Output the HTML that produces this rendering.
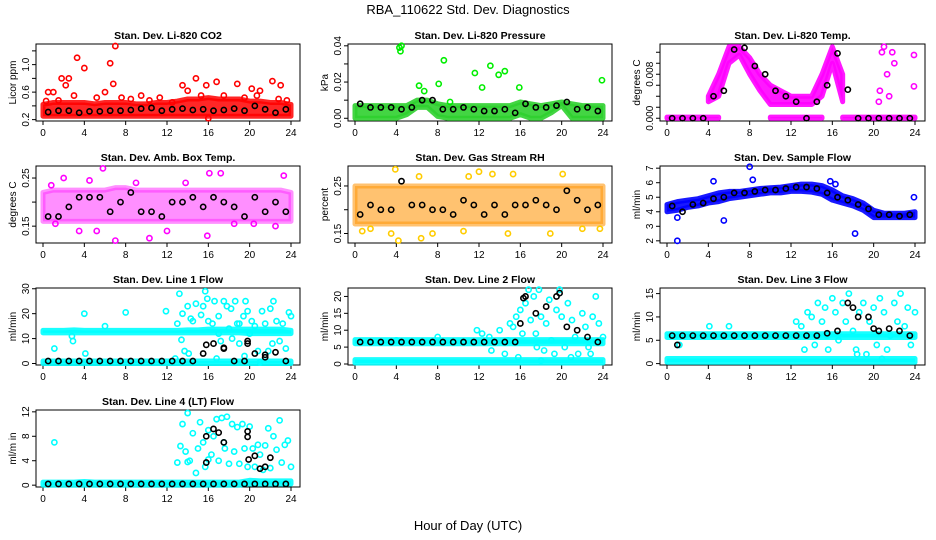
<!DOCTYPE html>
<html><head><meta charset="utf-8"><style>
body{margin:0;background:#fff;width:936px;height:540px;overflow:hidden}
svg{display:block;font-family:"Liberation Sans",sans-serif}
</style></head><body>
<svg id="chart" width="936" height="540" viewBox="0 0 936 540" xmlns="http://www.w3.org/2000/svg">
<text x="468" y="14" font-size="13" text-anchor="middle">RBA_110622  Std. Dev. Diagnostics</text>
<text x="468" y="530" font-size="13" text-anchor="middle">Hour of Day (UTC)</text>
</svg>
<script>
const bandHours=[0,1,2,3,4,5,6,7,8,9,10,11,12,13,14,15,16,17,18,19,20,21,22,23,24];
const blackHours=[0.5,1.5,2.5,3.5,4.5,5.5,6.5,7.5,8.5,9.5,10.5,11.5,12.5,13.5,14.5,15.5,16.5,17.5,18.5,19.5,20.5,21.5,22.5,23.5];
const xTicks=[0,4,8,12,16,20,24];

const co2Lo=[0.25,0.25,0.25,0.25,0.25,0.25,0.25,0.25,0.25,0.25,0.25,0.25,0.25,0.25,0.25,0.25,0.25,0.25,0.25,0.25,0.25,0.25,0.25,0.25,0.25];
const co2Hi=[0.42,0.45,0.45,0.45,0.45,0.43,0.45,0.45,0.45,0.43,0.43,0.45,0.45,0.47,0.5,0.5,0.52,0.5,0.5,0.5,0.47,0.47,0.45,0.45,0.42];
const co2Black=[0.31,0.33,0.33,0.3,0.32,0.32,0.33,0.33,0.34,0.36,0.37,0.33,0.35,0.36,0.34,0.35,0.33,0.34,0.36,0.33,0.40,0.35,0.30,0.35];
const co2OutX=[0.5,1,1.8,2.2,2.5,3.3,4,6.5,6.8,7,9.5,11.3,13.5,14.8,15.8,16,16.8,18.8,20.2,21,22.2,23,0.3,1.5,3,5.2,6,7.6,8.5,10.3,12.5,14,15.3,17.5,19.5,20.7,22.8,23.6];
const co2OutY=[0.6,0.6,0.8,0.7,0.8,1.1,0.95,1.02,0.72,1.27,0.55,0.52,0.7,0.8,0.7,0.22,0.75,0.72,0.65,0.62,0.76,0.7,0.47,0.48,0.55,0.52,0.6,0.52,0.5,0.48,0.45,0.62,0.55,0.55,0.52,0.55,0.5,0.48];

const presLo=[0,0,0,0,0,0.002,0.006,0.006,0.001,0,0,0,0,0,0,0,0.002,0,0,0.003,0.007,0,0,0,0];
const presHi=[0.007,0.007,0.007,0.007,0.007,0.007,0.01,0.01,0.008,0.007,0.007,0.007,0.007,0.007,0.007,0.007,0.009,0.008,0.007,0.008,0.009,0.008,0.007,0.007,0.007];
const presBlack=[0.008,0.006,0.006,0.006,0.005,0.006,0.010,0.010,0.005,0.005,0.006,0.005,0.004,0.004,0.005,0.003,0.008,0.006,0.006,0.007,0.009,0.005,0.006,0.004];
const presOutX=[4.3,4.5,4.4,6.2,6.7,8.1,8.6,9.2,11.6,12.3,13.1,13.9,14.5,15.9,23.9];
const presOutY=[0.039,0.04,0.037,0.018,0.015,0.019,0.032,0.009,0.025,0.017,0.029,0.024,0.026,0.017,0.021];

const tempLo=[null,null,null,null,0.003,0.004,0.010,0.0115,0.008,0.005,0.0025,0.0025,0.0025,0.0025,0.0025,0.004,0.010,0.003,null,null,null,null,null,null,null];
const tempHi=[null,null,null,null,0.004,0.008,0.013,0.013,0.011,0.008,0.006,0.005,0.004,0.004,0.004,0.008,0.013,0.008,null,null,null,null,null,null,null];
const tempZeroLo=[0,0,0,0,0,0,null,null,null,null,0,0,0,0,0,0,null,0,0,0,0,0,0,0,0];
const tempZeroHi=[0.0002,0.0002,0.0002,0.0002,0.0002,0.0002,null,null,null,null,0.0002,0.0002,0.0002,0.0002,0.0002,0.0002,null,0.0002,0.0002,0.0002,0.0002,0.0002,0.0002,0.0002,0.0002];
const tempBlack=[0,0,0,0,0.004,0.005,0.0125,0.0128,0.0095,0.008,0.005,0.004,0.003,0,0.003,0.006,0.0118,0.0052,0,0,0,0,0,0];
const tempOutX=[20.6,20.8,21.0,21.3,21.5,21.8,22,20.5,23.9,23.9];
const tempOutY=[0.005,0.012,0.013,0.008,0.004,0.012,0.01,0.003,0.0115,0.0058];

const ambLo=[0.16,0.16,0.16,0.16,0.16,0.16,0.16,0.16,0.16,0.16,0.16,0.16,0.16,0.16,0.16,0.16,0.16,0.16,0.16,0.16,0.16,0.16,0.16,0.16,0.16];
const ambHi=[0.22,0.225,0.225,0.225,0.225,0.225,0.225,0.23,0.23,0.225,0.225,0.225,0.225,0.225,0.225,0.225,0.225,0.225,0.225,0.225,0.225,0.225,0.225,0.225,0.22];
const ambBlack=[0.17,0.17,0.19,0.21,0.21,0.21,0.18,0.2,0.22,0.18,0.18,0.17,0.2,0.2,0.21,0.19,0.21,0.2,0.19,0.17,0.21,0.18,0.2,0.18];
const ambOutX=[7,10.3,5.8,16.1,17.2,23.3,3.5,5.2,15.9,2.0,0.8,12,22.5,1.2,4.5,9,13.8,18.5,20.4];
const ambOutY=[0.12,0.125,0.27,0.26,0.26,0.255,0.14,0.14,0.13,0.25,0.235,0.14,0.15,0.155,0.245,0.24,0.24,0.155,0.155];

const rhLo=[0.17,0.17,0.17,0.17,0.17,0.17,0.17,0.17,0.17,0.17,0.17,0.17,0.17,0.17,0.17,0.17,0.17,0.17,0.17,0.17,0.17,0.17,0.17,0.17,0.17];
const rhHi=[0.25,0.25,0.25,0.25,0.25,0.25,0.25,0.25,0.25,0.25,0.25,0.25,0.25,0.25,0.25,0.25,0.25,0.25,0.25,0.25,0.25,0.25,0.25,0.25,0.25];
const rhBlack=[0.19,0.21,0.2,0.2,0.26,0.21,0.21,0.2,0.2,0.19,0.22,0.21,0.19,0.21,0.19,0.21,0.21,0.22,0.21,0.2,0.24,0.22,0.2,0.21];
const rhOutX=[3.9,6.2,7.5,3.5,4.2,6.4,11,12,13.3,15.3,14.8,18.9,20.1,10.5,0.7,1.5,22,23.7];
const rhOutY=[0.285,0.27,0.15,0.15,0.135,0.14,0.27,0.28,0.275,0.275,0.15,0.15,0.275,0.155,0.155,0.16,0.16,0.16];

const flowLo=[4.0,4.1,4.3,4.4,4.6,4.7,4.9,5.0,5.1,5.2,5.3,5.3,5.4,5.4,5.35,5.2,4.8,4.6,4.4,4.1,3.6,3.6,3.6,3.6,3.6];
const flowHi=[4.5,4.7,4.8,4.9,5.1,5.3,5.4,5.4,5.5,5.6,5.65,5.7,5.8,5.9,5.9,5.8,5.5,5.1,4.9,4.6,4.1,3.9,3.9,3.9,4.0];
const flowBlack=[4.4,4.0,4.5,4.6,4.9,5.0,5.3,5.3,5.4,5.5,5.5,5.6,5.7,5.7,5.6,5.3,5.0,4.8,4.5,4.2,3.8,3.8,3.7,3.8];
const flowOutX=[1,1,4.5,5.5,8,8.3,15.8,16.3,18.2,23.9];
const flowOutY=[2,3.6,6.1,3.4,7.1,6.2,6.1,5.9,2.5,5];

const l1Lo=[12.3,12.3,12.3,12.3,12.3,12.3,12.3,12.3,12.3,12.3,12.3,12.3,12.3,12.3,12.3,12.3,12.3,12.3,12.3,12.3,12,12,12,12,12];
const l1Hi=[13.3,13.3,13.3,13.5,13.3,13.3,13.3,13.3,13.3,13.3,13.3,13.3,13.3,13.3,13.5,13.5,13.8,13.8,13.8,13.8,13.8,13.8,13.8,13.8,13.3];
const l1LowLo=[0,0,0,0,0,0,0,0,0,0,0,0,0,0,0,0,0,0,0,0,0,0,0,0,0];
const l1LowHi=[1,1,1,1,1,1,1,1,1,1,1,1,1,1,1,1,1,1,1,1,1,1,1,1,1];
const l1Black=[1,1,1,1,1,1,1,1,1,1,1,1,1,1,1,4,8,6,1,1,4,2.5,4.5,1];
const l1ExtraX=[15.8,17.5,19.8,19.8,21.5];
const l1ExtraY=[7.5,6.3,9,8,3.5];
const l1OutX=[1.1,4,8,11.9,4.1,2.8,2.9,6,13.2,13.5,13.4,13,14,14.3,14.8,15.3,15.5,15.7,15.9,16,16.4,16.6,17,17.2,17.5,17.8,18.2,18.3,18.6,18.8,19,19.4,19.6,19.8,20.2,20.5,20.8,21.2,21.5,21.8,22,22.3,22.6,22.9,23.2,23.5,23.8,24,14.1,16.8,13.7,18,19,20,14.5,12.8,17,19.5,21,22.2];
const l1OutY=[6,20,20.5,21,4,11,9,15,28,20,9.5,16,23,18,24,19.5,23,29,26,17,16,25,19,9,25,23,22,10,25,16,8,19,25,21,17,15,5,21,16,5,22,25,17,9,16,6,20.5,19,4,2,5,14,16,12,17,2,12,3,0.5,8];

const l2Lo=[6,6,6,6,6,6,6,6,6,6,6,6,6,6,6,6,6,6,6,6,6,6,6,6,6];
const l2Hi=[7.2,7.2,7.2,7.2,7.2,7.2,7.2,7.2,7.2,7.2,7.2,7.2,7.2,7.2,7.2,7.2,7.2,7.2,7.2,7.2,7.2,7.2,7.2,7.2,7.2];
const l2LowLo=[0.3,0.3,0.3,0.3,0.3,0.3,0.3,0.3,0.3,0.3,0.3,0.3,0.3,0.3,0.3,0.3,0.3,0.3,0.3,0.3,0.3,0.3,0.3,0.3,0.3];
const l2LowHi=[1.3,1.3,1.3,1.3,1.3,1.3,1.3,1.3,1.3,1.3,1.3,1.3,1.3,1.3,1.3,1.3,1.3,1.3,1.3,1.3,1.3,1.3,1.3,1.3,1.3];
const l2Black=[6.5,6.5,6.5,6.5,6.5,6.5,6.5,6.5,6.5,6.5,6.5,6.5,6.5,6.5,6.5,6.5,20,15,17,20,11,10,8,6.5];
const l2ExtraX=[16,16.3,19.8];
const l2ExtraY=[12,19.5,21];
const l2OutX=[4,8,11.8,13,13.2,14,14.5,15,15.3,15.6,16,16.2,16.5,16.8,17,17.3,17.5,17.8,18,18.3,18.5,18.8,19,19.3,19.5,19.8,20,20.3,20.6,21,21.3,21.6,22,22.3,22.6,23,23.3,23.6,24,14.8,12.3,15.8,17.6,20.9,22.8,18];
const l2OutY=[7,8,10,8,4,10,3,12,11,14,16,9,18,22,13,20,9,22,14,4,12,19,7,3,16,22,14,5,18,13,8,3,15,11,5,14,20,12,8,7,9,2,5,2,3,1];

const l3Lo=[5.6,5.6,5.6,5.6,5.6,5.6,5.6,5.6,5.6,5.6,5.6,5.6,5.6,5.6,5.6,5.6,5.6,5.6,5.6,5.6,5.6,5.6,5.6,5.6,5.6];
const l3Hi=[6.4,6.4,6.4,6.4,6.4,6.4,6.4,6.4,6.4,6.4,6.4,6.4,6.4,6.4,6.4,6.4,6.4,6.4,6.4,6.4,6.4,6.4,6.4,6.4,6.4];
const l3LowLo=[0.3,0.3,0.3,0.3,0.3,0.3,0.3,0.3,0.3,0.3,0.3,0.3,0.3,0.3,0.3,0.3,0.3,0.3,0.3,0.3,0.3,0.3,0.3,0.3,0.3];
const l3LowHi=[1.1,1.1,1.1,1.1,1.1,1.1,1.1,1.1,1.1,1.1,1.1,1.1,1.1,1.1,1.1,1.1,1.1,1.1,1.1,1.1,1.1,1.1,1.1,1.1,1.1];
const l3Black=[6,6,6,6,6,6,6,6,6,6,6,6,6,6,6,6.5,7,13,10,10,7,7.5,7,6];
const l3ExtraX=[1,18,20];
const l3ExtraY=[4,12,7.5];
const l3OutX=[1,1.2,4.1,6,12.5,13,13.3,13.6,14,14.3,14.6,15,15.3,15.6,16,16.3,16.6,17,17.3,17.6,18,18.3,18.6,19,19.3,19.6,20,20.3,20.6,21,21.3,21.6,22,22.3,22.6,23,23.3,23.6,24,18.4,15.5,20.8];
const l3OutY=[6,4,8,8,9,8,3,11,10,4,13,9,12,3,14,11,5,13,9,15,7,3,11,13,2,9,12,4,14,11,3,6,13,9,15,8,12,4,11,2,6,1];

const l4LowLo=[0,0,0,0,0,0,0,0,0,0,0,0,0,0,0,0,0,0,0,0,0.2,0.2,0.2,0.2,0.2];
const l4LowHi=[0.5,0.5,0.5,0.5,0.6,0.5,0.5,0.5,0.5,0.5,0.5,0.5,0.5,0.5,0.5,0.5,0.5,0.5,0.5,0.5,0.8,0.7,0.7,0.7,0.7];
const l4Black=[0.2,0.2,0.2,0.2,0.2,0.2,0.2,0.2,0.2,0.2,0.2,0.2,0.2,0.2,0.2,0.2,0.2,0.2,0.2,0.2,0.2,0.2,0.2,0.2];
const l4ExtraX=[15.8,15.8,16.5,17,17.5,19.8,19.8,19.9,20.5,21,21.5,22];
const l4ExtraY=[8,3.7,9.2,8.6,7,8.8,7.9,4.2,4.8,2.7,3,4.5];
const l4OutX=[1.1,13,13.3,13.5,13.8,14,14.2,14.5,14.8,15,15.2,15.5,15.7,16,16.3,16.5,16.8,17,17.3,17.5,17.8,18,18.3,18.5,18.8,19,19.3,19.5,19.8,20,20.3,20.5,20.8,21,21.3,21.5,21.8,22,22.3,22.6,22.9,23.1,23.4,23.7,24,14,16,17.6];
const l4OutY=[7,3.7,6.4,10,5.5,11.8,4,8.5,2,6,10.3,7,3,9,5,8,10.8,4,11,7,11.2,3.5,10,5.5,9.5,3.5,10,6,3,9.6,6,3,6.6,5,2.5,6.5,9.3,2.8,8,5.8,10.6,3.7,6.6,7.3,3,3.8,4.2,6];

const NS='http://www.w3.org/2000/svg';
const svg=document.getElementById('chart');
function mk(tag,attrs,parent){const e=document.createElementNS(NS,tag);for(const k in attrs)e.setAttribute(k,attrs[k]);(parent||svg).appendChild(e);return e;}

const panels=[
 {title:'Stan. Dev. Li-820 CO2',ylab:'Licor ppm',col:0,row:0,ymin:0.18,ymax:1.3,yt:[0.2,0.4,0.6,0.8,1.0,1.2],yl:['0.2','','0.6','','1.0',''],color:'#ff0000',band:'#ff0000',op:0.85,bands:[[co2Lo,co2Hi]],black:co2Black,ox:co2OutX,oy:co2OutY},
 {title:'Stan. Dev. Li-820 Pressure',ylab:'kPa',col:1,row:0,ymin:-0.0015,ymax:0.041,yt:[0,0.01,0.02,0.03,0.04],yl:['0.00','','0.02','','0.04'],color:'#00ee00',band:'#2fd02f',op:0.9,bands:[[presLo,presHi]],black:presBlack,ox:presOutX,oy:presOutY},
 {title:'Stan. Dev. Li-820 Temp.',ylab:'degrees C',col:2,row:0,ymin:-0.0005,ymax:0.0135,yt:[0,0.002,0.004,0.006,0.008,0.010,0.012],yl:['0.000','','','','0.008','',''],color:'#ff00ff',band:'#ff00ff',op:0.9,bands:[[tempLo,tempHi],[tempZeroLo,tempZeroHi]],black:tempBlack,ox:tempOutX,oy:tempOutY},
 {title:'Stan. Dev. Amb. Box Temp.',ylab:'degrees C',col:0,row:1,ymin:0.115,ymax:0.275,yt:[0.15,0.2,0.25],yl:['0.15','','0.25'],color:'#ff00ff',band:'#ff33ff',op:0.55,bands:[[ambLo,ambHi]],black:ambBlack,ox:ambOutX,oy:ambOutY},
 {title:'Stan. Dev. Gas Stream RH',ylab:'percent',col:1,row:1,ymin:0.13,ymax:0.292,yt:[0.15,0.2,0.25],yl:['0.15','','0.25'],color:'#ffcc00',band:'#ff9a10',op:0.6,bands:[[rhLo,rhHi]],black:rhBlack,ox:rhOutX,oy:rhOutY},
 {title:'Stan. Dev. Sample Flow',ylab:'ml/min',col:2,row:1,ymin:1.85,ymax:7.15,yt:[2,3,4,5,6,7],yl:['2','3','4','5','6','7'],color:'#0000ff',band:'#0000ff',op:0.9,bands:[[flowLo,flowHi]],black:flowBlack,ox:flowOutX,oy:flowOutY},
 {title:'Stan. Dev. Line 1 Flow',ylab:'ml/min',col:0,row:2,ymin:-0.6,ymax:30.3,yt:[0,10,20,30],yl:['0','10','20','30'],color:'#00ffff',band:'#00ffff',op:0.9,bands:[[l1Lo,l1Hi],[l1LowLo,l1LowHi]],black:l1Black,bx:l1ExtraX,by:l1ExtraY,ox:l1OutX,oy:l1OutY},
 {title:'Stan. Dev. Line 2 Flow',ylab:'ml/min',col:1,row:2,ymin:-0.3,ymax:22.5,yt:[0,5,10,15,20],yl:['0','5','10','15','20'],color:'#00ffff',band:'#00ffff',op:0.9,bands:[[l2Lo,l2Hi],[l2LowLo,l2LowHi]],black:l2Black,bx:l2ExtraX,by:l2ExtraY,ox:l2OutX,oy:l2OutY},
 {title:'Stan. Dev. Line 3 Flow',ylab:'ml/min',col:2,row:2,ymin:-0.3,ymax:16.2,yt:[0,5,10,15],yl:['0','5','10','15'],color:'#00ffff',band:'#00ffff',op:0.9,bands:[[l3Lo,l3Hi],[l3LowLo,l3LowHi]],black:l3Black,bx:l3ExtraX,by:l3ExtraY,ox:l3OutX,oy:l3OutY},
 {title:'Stan. Dev. Line 4 (LT) Flow',ylab:'ml/m in',col:0,row:3,ymin:-0.3,ymax:12.3,yt:[0,4,8,12],yl:['0','4','8','12'],color:'#00ffff',band:'#00ffff',op:0.9,bands:[[l4LowLo,l4LowHi]],black:l4Black,bx:l4ExtraX,by:l4ExtraY,ox:l4OutX,oy:l4OutY}
];
const colBox=[[36,300],[348,612],[660,925]];
const colX0=[43,355,667];
const titleY=[35,157,279,401];

panels.forEach((p,i)=>{
  const g=mk('g',{});
  
  
  const [bl,br]=colBox[p.col];const x0=colX0[p.col];const x24=x0+248;
  const ty=titleY[p.row];const bt=ty+9,bb=ty+86;
  const X=h=>x0+(h/24)*(x24-x0);
  const Y=v=>bb-(v-p.ymin)/(p.ymax-p.ymin)*(bb-bt);
  const t=mk('text',{x:(bl+br)/2,y:ty+4,'font-size':10.5,'font-weight':'bold','text-anchor':'middle'},g);t.textContent=p.title;
  
  
  const box=mk('rect',{x:bl,y:bt,width:br-bl,height:bb-bt,fill:'none',stroke:'#000','stroke-width':1},g);
  
  
  const xa=mk('g',{},g);
  
  
  xTicks.forEach(h=>{mk('line',{x1:X(h),x2:X(h),y1:bb,y2:bb+4,stroke:'#000'},xa);const l=mk('text',{x:X(h),y:bb+15,'font-size':10,'text-anchor':'middle'},xa);l.textContent=h;});
  const ya=mk('g',{},g);
  
  
  p.yt.forEach((v,k)=>{mk('line',{x1:bl-4,x2:bl,y1:Y(v),y2:Y(v),stroke:'#000'},ya);if(p.yl[k]){const l=mk('text',{x:0,y:0,'font-size':10,'text-anchor':'middle',transform:`translate(${bl-7},${Y(v)}) rotate(-90)`},ya);l.textContent=p.yl[k];}});
  const yl=mk('text',{x:0,y:0,'font-size':10,'text-anchor':'middle',transform:`translate(${bl-20},${(bt+bb)/2}) rotate(-90)`},g);yl.textContent=p.ylab;
  
  
  p.bands.forEach(([lo,hi])=>{
    // split into contiguous segments where values are not null
    let seg=[];const segs=[];
    bandHours.forEach((h,k)=>{if(lo[k]===null||hi[k]===null){if(seg.length)segs.push(seg);seg=[];}else seg.push(k);});
    if(seg.length)segs.push(seg);
    segs.forEach(s=>{
      let d='';s.forEach((k,j)=>{d+=(j?'L':'M')+X(bandHours[k])+','+Y(hi[k]);});
      for(let j=s.length-1;j>=0;j--)d+='L'+X(bandHours[s[j]])+','+Y(lo[s[j]]);
      const b=mk('path',{d:d+'Z',fill:p.band,stroke:p.band,'stroke-width':5,'stroke-linejoin':'round','stroke-linecap':'round','fill-opacity':p.op,'stroke-opacity':p.op},g);
      
      
    });
  });
  p.ox.forEach((h,k)=>{const c=mk('circle',{cx:X(h),cy:Y(p.oy[k]),r:2.6,fill:'none',stroke:p.color,'stroke-width':1.6},g);
    
    });
  p.black.forEach((v,k)=>{const c=mk('circle',{cx:X(blackHours[k]),cy:Y(v),r:2.6,fill:'none',stroke:'#000','stroke-width':1.6},g);
    
    });
  (p.bx||[]).forEach((h,k)=>{const c=mk('circle',{cx:X(h),cy:Y(p.by[k]),r:2.6,fill:'none',stroke:'#000','stroke-width':1.6},g);
    
    });
});
</script>
</body></html>
